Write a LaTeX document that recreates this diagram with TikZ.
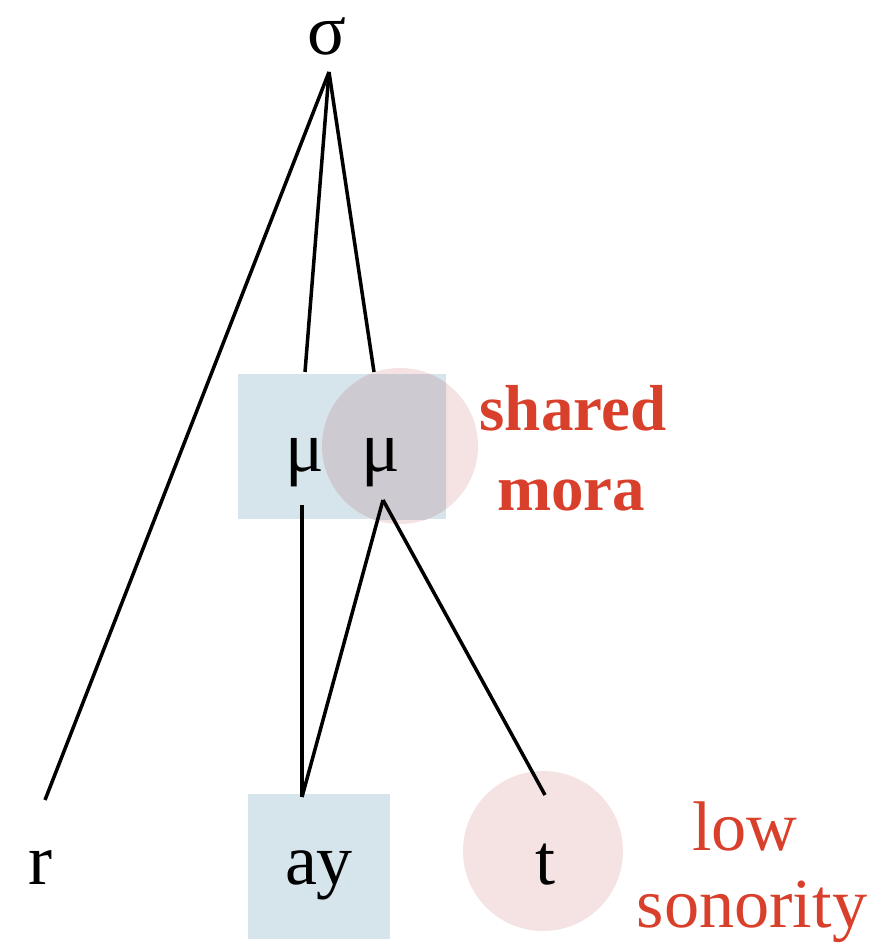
\documentclass[tikz,border=0pt]{standalone}
\usepackage{fontspec}
\setmainfont{Liberation Serif}
\definecolor{moraBlue}{RGB}{214,228,236}
\definecolor{moraPink}{RGB}{245,226,226}
\definecolor{moraBoth}{RGB}{206,202,210}
\definecolor{noteRed}{RGB}{217,64,43}
\tikzset{
    seg/.style={font=\fontsize{41}{41}\selectfont, anchor=base},
    note/.style={font=\fontsize{37}{40}\selectfont\bfseries, text=noteRed, anchor=base},
    branch/.style={line width=2pt}
}
\begin{document}
\begin{tikzpicture}[x=0.02cm, y=-0.02cm]
    \useasboundingbox (0,0) rectangle (883,949);
    % Hintergrund: Markierungen
    \fill[moraBlue] (238,374) rectangle (446,519);
    \fill[moraBlue] (248,794) rectangle (390,939);
    \fill[moraPink] (400,446) circle (78);
    \fill[moraPink] (543,851) circle (80);
    \begin{scope}
        \clip (238,374) rectangle (446,519);
        \fill[moraBoth] (400,446) circle (78);
    \end{scope}

    % Knoten
    \node[seg] (sigma) at (327,55) {σ};
    \node[seg] (mu1) at (305,471) {μ};
    \node[seg] (mu2) at (381,471) {μ};
    \node[seg] (r) at (40,884) {r};
    \node[seg] (ay) at (319,884) {ay};
    \node[seg] (t) at (545,884) {t};

    % Anschlusspunkte der Linien
    \coordinate (sigma-b) at (329,72);
    \coordinate (mu1-t) at (305,372);
    \coordinate (mu2-t) at (374,372);
    \coordinate (mu1-b) at (302,505);
    \coordinate (mu2-b) at (383,500);
    \coordinate (r-t) at (45,800);
    \coordinate (ay-t) at (302,797);
    \coordinate (t-t) at (545,795);

    % Assoziationslinien
    \draw[branch] (sigma-b) -- (r-t);
    \draw[branch] (sigma-b) -- (mu1-t);
    \draw[branch] (sigma-b) -- (mu2-t);
    \draw[branch] (mu1-b) -- (ay-t);
    \draw[branch] (mu2-b) -- (ay-t);
    \draw[branch] (mu2-b) -- (t-t);

    % Beschriftungen
    \node[note] (shared) at (573,430) {shared};
    \node[note] (mora) at (571,510) {mora};
    \node[note, font=\fontsize{40}{40}\selectfont] (low) at (745,850) {low};
    \node[note, font=\fontsize{40}{40}\selectfont] (sonority) at (752,927) {sonority};
\end{tikzpicture}
\end{document}
